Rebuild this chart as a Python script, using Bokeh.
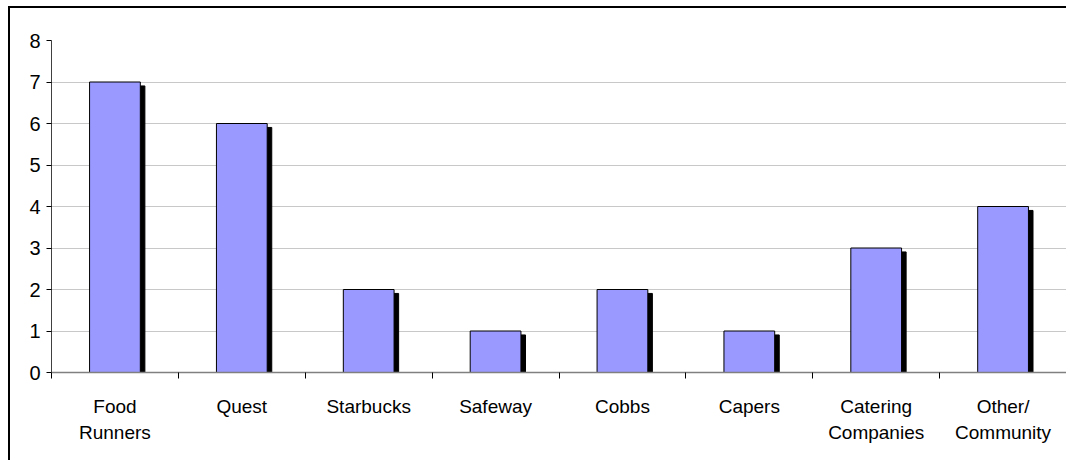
from bokeh.plotting import figure
from bokeh.layouts import column
from bokeh.models import FixedTicker, ColumnDataSource, Range1d
from bokeh.transform import dodge
from bokeh.embed import file_html
from bokeh.resources import INLINE

categories = ["Food\nRunners", "Quest", "Starbucks", "Safeway", "Cobbs", "Capers",
              "Catering\nCompanies", "Other/\nCommunity"]
counts = [7, 6, 2, 1, 2, 1, 3, 4]
y_ticks = [0, 1, 2, 3, 4, 5, 6, 7, 8]

xs = [i + 0.5 for i in range(len(categories))]
src = ColumnDataSource(dict(x=xs, top=counts))

p = figure(width=1056, height=452, x_range=Range1d(0, len(categories)), y_range=Range1d(0, 8),
           output_backend="svg", toolbar_location=None,
           min_border_left=41, min_border_top=32, min_border_right=0, min_border_bottom=88)
p.outline_line_color = None

# shadow
p.vbar(x=dodge("x", 0.036), top=dodge("top", -0.095), bottom=0, width=0.4,
       fill_color="black", line_color="black", source=src)
# bars
p.vbar(x="x", top="top", bottom=0, width=0.4, fill_color="#9999FF",
       line_color="black", line_width=1, source=src)

xa = p.xaxis[0]
xa.ticker = FixedTicker(ticks=xs, minor_ticks=list(range(len(categories) + 1)))
xa.major_label_overrides = {x: c for x, c in zip(xs, categories)}
xa.major_tick_out = 0
xa.major_tick_in = 0
xa.minor_tick_out = 6
xa.minor_tick_in = 0
xa.minor_tick_line_color = "black"
xa.axis_line_color = "#808080"
xa.axis_line_width = 1.5
xa.major_label_standoff = 17
xa.major_label_text_font = "Liberation Sans"
xa.major_label_text_font_size = "19px"
xa.major_label_text_color = "black"
xa.major_label_text_line_height = 1.25

ya = p.yaxis[0]
ya.ticker = FixedTicker(ticks=y_ticks, minor_ticks=[])
ya.major_tick_out = 5
ya.major_tick_in = 0
ya.major_tick_line_color = "black"
ya.axis_line_color = "#404040"
ya.major_label_standoff = 6
ya.major_label_text_font = "Liberation Sans"
ya.major_label_text_font_size = "20px"
ya.major_label_text_color = "black"

p.xgrid.visible = False
p.ygrid.grid_line_color = "#C8C8C8"
p.ygrid.grid_line_width = 1

layout = column(p)
layout.styles = {"border-top": "2px solid black", "border-left": "2px solid black",
                 "margin-left": "8px", "margin-top": "6px"}

open("out.html", "w").write(file_html(layout, INLINE))
